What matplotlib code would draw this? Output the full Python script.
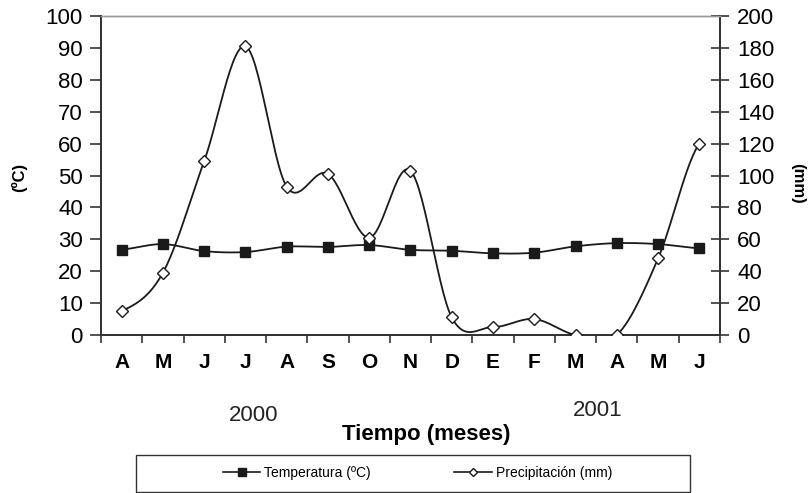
import numpy as np
import matplotlib.pyplot as plt
from matplotlib.lines import Line2D
from matplotlib.patches import Rectangle

plt.rcParams['font.family'] = ['Liberation Sans', 'DejaVu Sans']

# Datos
meses = ["A", "M", "J", "J", "A", "S", "O", "N", "D", "E", "F", "M", "A", "M", "J"]
temperatura = [26.8, 28.5, 26.3, 26.0, 27.7, 27.6, 28.2, 26.7, 26.4, 25.6, 25.8, 27.8, 28.8, 28.5, 27.2]
precipitacion = [15, 39, 109, 181, 93, 101, 61, 103, 11, 5, 10, 0, 0, 48, 120]


def suavizar(y, n=30):
    # curva suavizada tipo Excel (Catmull-Rom / Hermite)
    y = np.asarray(y, dtype=float)
    yp = np.concatenate([[y[0]], y, [y[-1]]])
    m = (yp[2:] - yp[:-2]) / 2.0
    xs, ys = [], []
    t = np.linspace(0, 1, n)
    h00 = 2 * t**3 - 3 * t**2 + 1
    h10 = t**3 - 2 * t**2 + t
    h01 = -2 * t**3 + 3 * t**2
    h11 = t**3 - t**2
    for i in range(len(y) - 1):
        xs.append(i + t)
        ys.append(h00 * y[i] + h10 * m[i] + h01 * y[i + 1] + h11 * m[i + 1])
    return np.concatenate(xs), np.concatenate(ys)


fig = plt.figure(figsize=(8.11, 4.93), dpi=100)
ax = fig.add_axes([0.1245, 0.3205, 0.7633, 0.647])
ax2 = ax.twinx()

x = np.arange(len(meses))

xt, yt = suavizar(temperatura)
ax.plot(xt, yt, color="#1a1a1a", lw=1.3, zorder=3)
ax.plot(x, temperatura, ls="none", marker="s", ms=7.5, color="#1a1a1a", zorder=4)

xp, yp = suavizar(precipitacion)
ax2.plot(xp, yp, color="#1a1a1a", lw=1.3, zorder=3)
ax2.plot(x, precipitacion, ls="none", marker="D", ms=6, mfc="white", mec="#1a1a1a", mew=1.0, zorder=4)

ax.set_xlim(-0.5, len(meses) - 0.5)
ax.set_ylim(0, 100)
ax2.set_ylim(0, 200)
ax.set_yticks(np.arange(0, 101, 10))
ax2.set_yticks(np.arange(0, 201, 20))

ax.set_xticks(np.arange(-0.5, len(meses), 1))
ax.set_xticklabels([])
ax.set_xticks(x, minor=True)
ax.set_xticklabels(meses, minor=True, fontweight="bold", fontsize=15)
ax.tick_params(axis="x", which="major", direction="out", length=6, width=1.2, color="#333333")
ax.tick_params(axis="x", which="minor", length=0, pad=13)
ax.tick_params(axis="y", direction="out", length=8, width=1.2, color="#333333", labelsize=16, pad=5)
ax2.tick_params(axis="y", direction="inout", length=13, width=1.2, color="#333333", labelsize=16, pad=6)

for a in (ax, ax2):
    a.spines["top"].set_color("#999999")
    a.spines["left"].set_color("#333333")
    a.spines["right"].set_color("#333333")
    a.spines["bottom"].set_color("#333333")
    for s in a.spines.values():
        s.set_linewidth(1.3)
    a.spines["top"].set_linewidth(1.0)

fig.text(0.023, 0.641, "(ºC)", rotation=90, fontweight="bold", fontsize=12, ha="center", va="center")
fig.text(0.983, 0.629, "(mm)", rotation=-90, fontweight="bold", fontsize=12, ha="center", va="center")

fig.text(0.313, 0.158, "2000", fontsize=16, ha="center", va="center", color="#222222")
fig.text(0.737, 0.168, "2001", fontsize=16, ha="center", va="center", color="#222222")
fig.text(0.525, 0.118, "Tiempo (meses)", fontsize=16, fontweight="bold", ha="center", va="center")

# marco de la leyenda
fig.patches.append(Rectangle((0.168, 0.003), 0.683, 0.074, transform=fig.transFigure,
                             fill=False, edgecolor="#333333", lw=1.0))

handles = [
    Line2D([], [], color="#1a1a1a", lw=1.2, marker="s", ms=6),
    Line2D([], [], color="#1a1a1a", lw=1.2, marker="D", ms=4.5, mfc="white"),
]
leg = fig.legend(handles, ["Temperatura (ºC)", "Precipitación (mm)"], ncol=2,
                 loc="center", bbox_to_anchor=(0.515, 0.04), fontsize=10, frameon=False,
                 handlelength=2.7, handletextpad=0.3, columnspacing=6.0)

fig.savefig("out.png", dpi=100)
